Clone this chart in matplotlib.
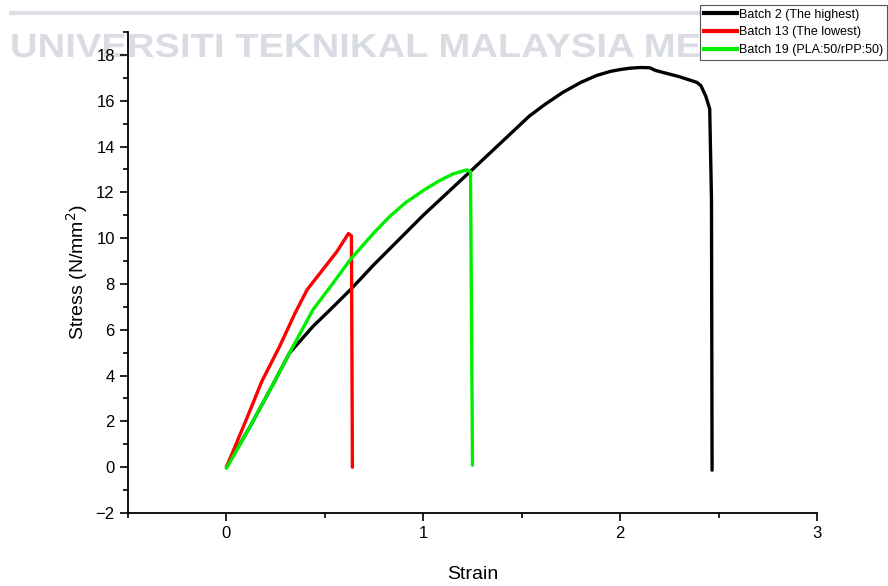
import matplotlib
matplotlib.use("Agg")
import matplotlib.pyplot as plt
from matplotlib.lines import Line2D
from matplotlib.patches import PathPatch
from matplotlib.textpath import TextPath
from matplotlib.font_manager import FontProperties
from matplotlib.transforms import Affine2D, IdentityTransform
from matplotlib.ticker import MultipleLocator

# Batch 2 (The highest)
strain_b2 = [0, 0.12, 0.24, 0.32, 0.44, 0.53, 0.63, 0.75, 1.0, 1.25, 1.54, 1.55, 1.62,
             1.71, 1.8, 1.88, 1.95, 2.0, 2.05, 2.1, 2.15, 2.18, 2.3, 2.39, 2.41, 2.435,
             2.455, 2.464, 2.467]
stress_b2 = [0, 1.77, 3.67, 4.98, 6.15, 6.9, 7.75, 8.85, 11.0, 13.0, 15.34, 15.4, 15.85,
             16.37, 16.8, 17.1, 17.28, 17.36, 17.42, 17.45, 17.44, 17.32, 17.05, 16.8, 16.66, 16.2,
             15.64, 11.7, -0.13]

# Batch 13 (The lowest)
strain_b13 = [0, 0.10, 0.18, 0.27, 0.35, 0.41, 0.49, 0.56, 0.62, 0.635, 0.64]
stress_b13 = [0, 2.06, 3.75, 5.27, 6.75, 7.75, 8.63, 9.4, 10.2, 10.1, 0.0]

# Batch 19 (PLA:50/rPP:50)
strain_b19 = [0, 0.12, 0.24, 0.32, 0.44, 0.53, 0.63, 0.75, 0.83, 0.91, 1.0, 1.08,
              1.15, 1.22, 1.24, 1.25]
stress_b19 = [-0.05, 1.77, 3.67, 4.98, 6.88, 7.9, 9.07, 10.24, 10.95, 11.55, 12.08, 12.5,
              12.8, 12.98, 12.9, 0.09]

labels = ["Batch 2 (The highest)", "Batch 13 (The lowest)", "Batch 19 (PLA:50/rPP:50)"]
colors = ["#000000", "#ff0000", "#00ee00"]
watermark = "UNIVERSITI TEKNIKAL MALAYSIA MELAKA"

plt.rcParams["font.family"] = ["Liberation Sans", "DejaVu Sans"]

W, H = 888, 586
fig = plt.figure(figsize=(W / 100, H / 100), dpi=100)

# watermark behind everything (drawn as a stretched text path, in pixels)
fig.add_artist(Line2D([11 / W, 1.0], [1 - 13 / H, 1 - 13 / H],
                      color="#dcdfe5", lw=3, zorder=0))
wm_font = FontProperties(family="Liberation Sans", weight="bold")
wm_size = 33.5
ref_w = TextPath((0, 0), "UNIVERSITI TEKNIKAL", size=wm_size, prop=wm_font).get_extents().width
wm_path = TextPath((0, 0), watermark, size=wm_size, prop=wm_font)
sx = 415 / ref_w
wm = PathPatch(wm_path, transform=Affine2D().scale(sx, 1.0).translate(10, H - 57) + IdentityTransform(),
               facecolor="#d9dce3", edgecolor="none", zorder=0)
fig.add_artist(wm)

ax = fig.add_axes([128 / W, 73 / H, (817 - 128) / W, (513 - 32) / H])
ax.set_facecolor("none")

for xs, ys, c in [(strain_b2, stress_b2, colors[0]),
                  (strain_b13, stress_b13, colors[1]),
                  (strain_b19, stress_b19, colors[2])]:
    ax.plot(xs, ys, color=c, lw=2.4, solid_joinstyle="round", solid_capstyle="round")

ax.set_xlim(-0.5, 3)
ax.set_ylim(-2, 19)
ax.xaxis.set_major_locator(MultipleLocator(1))
ax.xaxis.set_minor_locator(MultipleLocator(0.5))
ax.yaxis.set_major_locator(MultipleLocator(2))
ax.yaxis.set_minor_locator(MultipleLocator(1))
ax.tick_params(which="major", direction="out", length=6, width=1.2, labelsize=12)
ax.tick_params(which="minor", direction="out", length=3.5, width=1.2)
ax.spines["top"].set_visible(False)
ax.spines["right"].set_visible(False)
ax.spines["left"].set_linewidth(1.3)
ax.spines["bottom"].set_linewidth(1.3)

ax.set_xlabel("Strain", fontsize=14, labelpad=18)
ax.set_ylabel("Stress (N/mm$^2$)", fontsize=14, labelpad=4)

handles = [Line2D([], [], color=c, lw=3) for c in colors]
leg = fig.legend(handles, labels, loc="upper right",
                 bbox_to_anchor=(887 / W, 1 - 5 / H),
                 fontsize=9, frameon=True, fancybox=False, framealpha=1,
                 edgecolor="#555555", handlelength=2.6, handletextpad=0.2,
                 labelspacing=0.45, borderpad=0.3, borderaxespad=0)
leg.get_frame().set_linewidth(0.8)
leg.set_zorder(10)

fig.savefig("out.png", dpi=100)
